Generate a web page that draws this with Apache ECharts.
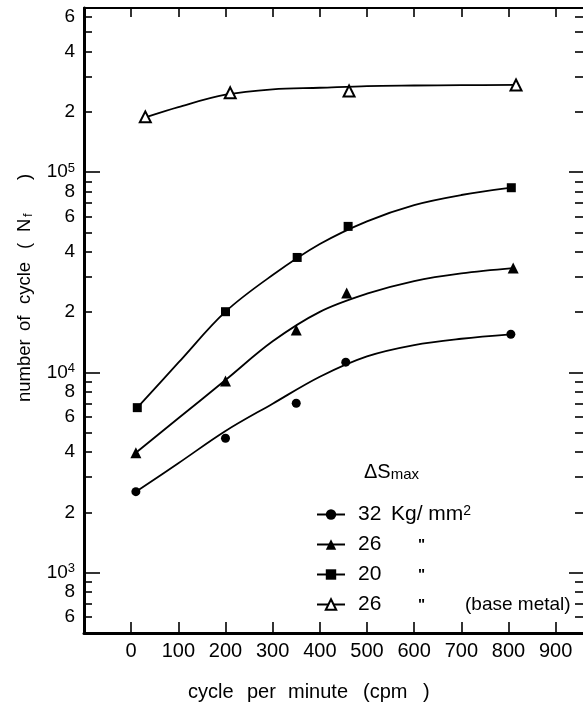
<!DOCTYPE html>
<html>
<head>
<meta charset="utf-8">
<script src="https://cdn.jsdelivr.net/npm/echarts@6/dist/echarts.min.js"></script>
<style>
html,body{margin:0;padding:0;background:#fff;}
#chart{width:583px;height:707px;}
</style>
</head>
<body>
<div id="chart"></div>
<script>
// ---- measured data points (markers) ----
const circleX = [10, 200, 350, 455, 805];
const circleY = [2540, 4690, 7020, 11250, 15500];
const triX = [10, 200, 350, 457, 810];
const triY = [3970, 9070, 16300, 24900, 33200];
const squareX = [13, 200, 352, 460, 806];
const squareY = [6670, 20100, 37500, 53600, 83600];
const baseX = [30, 210, 462, 816];
const baseY = [188800, 248900, 254000, 272300];

// ---- fitted curves ----
const circleCurveX = [10, 100, 200, 300, 400, 500, 600, 700, 805];
const circleCurveY = [2540, 3520, 5100, 6980, 9520, 12030, 13700, 14730, 15500];
const triCurveX = [10, 100, 200, 300, 400, 500, 600, 700, 810];
const triCurveY = [3970, 5900, 9160, 14300, 20070, 24720, 28600, 31240, 33200];
const squareCurveX = [13, 100, 200, 300, 400, 500, 600, 700, 806];
const squareCurveY = [6670, 11180, 20100, 30640, 43750, 56820, 68500, 76880, 83600];
const baseCurveX = [30, 100, 200, 300, 400, 500, 600, 700, 816];
const baseCurveY = [187700, 211300, 243500, 259100, 263900, 269100, 270800, 271800, 272800];

// ---- ticks ----
const xTicks = [0, 100, 200, 300, 400, 500, 600, 700, 800, 900];
const yMajorTicks = [1000, 10000, 100000];
const yMinorTicks = [600, 700, 800, 900,
  2000, 3000, 4000, 5000, 6000, 7000, 8000, 9000,
  20000, 30000, 40000, 50000, 60000, 70000, 80000, 90000,
  200000, 300000, 400000, 500000, 600000];
const yLabelValues = [600, 800, 1000, 2000, 4000, 6000, 8000, 10000,
  20000, 40000, 60000, 80000, 100000, 200000, 400000, 600000];

const legendNames = ['c32', 't26', 's20', 'b26'];
const legendTexts = {
  c32: '{g| }{a|32}{u|Kg/ mm}{sup|2}',
  t26: '{g| }{n|26}{d|"}',
  s20: '{g| }{n|20}{d|"}',
  b26: '{g| }{n|26}{d|"}{m|(base metal)}'
};

const zip = (xs, ys) => xs.map((x, i) => [x, ys[i]]);
const BLACK = '#000';
const LABEL_FONT = "'Liberation Sans', 'DejaVu Sans', sans-serif";
const TEXT_FONT = "'Liberation Sans', 'DejaVu Sans', sans-serif";

function yLabel(v) {
  const e = Math.round(Math.log10(v));
  if (Math.abs(v - Math.pow(10, e)) < 1e-6 * v) return '{b|10}{s|' + e + '}';
  return '{b|' + Math.round(v / Math.pow(10, Math.floor(Math.log10(v) + 1e-9))) + '}';
}

const Y_MIN = 500, Y_MAX = 660000;
function yAx(pos, len, ticks, withLine, labels) {
  return {
    type: 'log', logBase: 10, min: Y_MIN, max: Y_MAX, position: pos,
    axisLine: { show: withLine, onZero: false, lineStyle: { color: BLACK, width: 3 } },
    axisTick: { show: true, inside: true, length: len, customValues: ticks,
      lineStyle: { color: BLACK, width: 1.6 } },
    axisLabel: labels ? {
      show: true, customValues: yLabelValues, margin: 9, formatter: yLabel,
      rich: {
        b: { fontSize: 19, fontFamily: LABEL_FONT, color: BLACK },
        s: { fontSize: 13, fontFamily: LABEL_FONT, color: BLACK, verticalAlign: 'top', padding: [0, 0, 8, 0] }
      }
    } : { show: false },
    splitLine: { show: false }, minorTick: { show: false }
  };
}

const chart = echarts.init(document.getElementById('chart'), null, { renderer: 'canvas' });

const curveStyle = { color: BLACK, width: 1.8 };
function curve(name, xs, ys, symbol) {
  return {
    name: name, type: 'line', smooth: 0.35,
    data: zip(xs, ys), showSymbol: false, symbol: symbol, symbolSize: 10,
    lineStyle: curveStyle, itemStyle: { color: BLACK },
    emphasis: { disabled: true }, silent: true, z: 2
  };
}
function pts(name, xs, ys, symbol, size) {
  return {
    name: name, type: 'scatter', data: zip(xs, ys), symbol: symbol, symbolSize: size,
    itemStyle: { color: BLACK, borderColor: BLACK, borderWidth: symbol.indexOf('empty') === 0 ? 1.6 : 0, opacity: 1 },
    emphasis: { disabled: true }, silent: true, z: 3
  };
}

chart.setOption({
  animation: false,
  backgroundColor: '#fff',
  grid: { left: 84, right: 0, top: 8, bottom: 74, containLabel: false },
  xAxis: [
    {
      type: 'value', position: 'bottom', min: -100, max: 958,
      axisLine: { onZero: false, lineStyle: { color: BLACK, width: 3 } },
      axisTick: { inside: true, length: 11, customValues: xTicks, lineStyle: { color: BLACK, width: 1.6 } },
      axisLabel: { customValues: xTicks, color: BLACK, fontSize: 20, fontFamily: LABEL_FONT, margin: 8 },
      splitLine: { show: false }
    },
    {
      type: 'value', position: 'top', min: -100, max: 958,
      axisLine: { onZero: false, lineStyle: { color: BLACK, width: 2 } },
      axisTick: { inside: true, length: 9, customValues: xTicks, lineStyle: { color: BLACK, width: 1.6 } },
      axisLabel: { show: false }, splitLine: { show: false }
    }
  ],
  yAxis: [
    yAx('left', 16, yMajorTicks, true, true),
    yAx('left', 8, yMinorTicks, false, false),
    yAx('right', 14, yMajorTicks, false, false),
    yAx('right', 8, yMinorTicks, false, false)
  ],
  legend: {
    orient: 'vertical', left: 311, top: 499, itemGap: 9, itemWidth: 28, itemHeight: 13,
    data: legendNames, selectedMode: false, inactiveColor: BLACK,
    formatter: n => legendTexts[n],
    textStyle: {
      color: BLACK, fontFamily: TEXT_FONT, fontSize: 21,
      rich: {
        g: { width: 8, fontSize: 21 },
        a: { width: 33, fontSize: 21, fontFamily: TEXT_FONT, color: BLACK },
        u: { fontSize: 21, fontFamily: TEXT_FONT, color: BLACK },
        sup: { fontSize: 14, fontFamily: TEXT_FONT, color: BLACK, verticalAlign: 'top' },
        n: { width: 60, fontSize: 21, fontFamily: TEXT_FONT, color: BLACK },
        d: { width: 47, fontSize: 15, fontFamily: TEXT_FONT, color: BLACK, fontWeight: 'bold' },
        m: { fontSize: 19, fontFamily: TEXT_FONT, color: BLACK }
      }
    }
  },
  graphic: [
    {
      type: 'text', left: 364, top: 462, silent: true,
      style: {
        text: '{a|ΔS}{b|max}', fill: BLACK,
        rich: {
          a: { fontSize: 20, fontFamily: TEXT_FONT, fill: BLACK },
          b: { fontSize: 15, fontFamily: TEXT_FONT, fill: BLACK, verticalAlign: 'bottom' }
        }
      }
    },
    {
      type: 'text', x: 25, y: 402, rotation: Math.PI / 2, silent: true,
      style: {
        text: '{a|number}{b|of}{c|cycle}{d|(}{e|N}{f|f}{g|)}', fill: BLACK,
        align: 'left', verticalAlign: 'middle',
        rich: {
          a: { width: 71, fontSize: 18.5, fontFamily: TEXT_FONT, fill: BLACK },
          b: { width: 27, fontSize: 18.5, fontFamily: TEXT_FONT, fill: BLACK },
          c: { width: 55, fontSize: 18.5, fontFamily: TEXT_FONT, fill: BLACK },
          d: { width: 17, fontSize: 18.5, fontFamily: TEXT_FONT, fill: BLACK },
          e: { width: 15, fontSize: 18.5, fontFamily: TEXT_FONT, fill: BLACK },
          f: { width: 37, fontSize: 13, fontFamily: TEXT_FONT, fill: BLACK, verticalAlign: 'bottom' },
          g: { width: 10, fontSize: 18.5, fontFamily: TEXT_FONT, fill: BLACK }
        }
      }
    },
    {
      type: 'text', x: 188, y: 692, silent: true,
      style: {
        text: '{a|cycle}{b|per}{c|minute}{d|(cpm}{e|)}', fill: BLACK,
        align: 'left', verticalAlign: 'middle',
        rich: {
          a: { width: 59, fontSize: 20, fontFamily: TEXT_FONT, fill: BLACK },
          b: { width: 41, fontSize: 20, fontFamily: TEXT_FONT, fill: BLACK },
          c: { width: 75, fontSize: 20, fontFamily: TEXT_FONT, fill: BLACK },
          d: { width: 60, fontSize: 20, fontFamily: TEXT_FONT, fill: BLACK },
          e: { width: 8, fontSize: 20, fontFamily: TEXT_FONT, fill: BLACK }
        }
      }
    }
  ],
  series: [
    curve('c32', circleCurveX, circleCurveY, 'circle'),
    curve('t26', triCurveX, triCurveY, 'triangle'),
    curve('s20', squareCurveX, squareCurveY, 'rect'),
    curve('b26', baseCurveX, baseCurveY, 'emptyTriangle'),
    pts('circle pts', circleX, circleY, 'circle', 9),
    pts('triangle pts', triX, triY, 'triangle', 11),
    pts('square pts', squareX, squareY, 'rect', 9),
    pts('base pts', baseX, baseY, 'emptyTriangle', 11)
  ]
});
</script>
</body>
</html>
